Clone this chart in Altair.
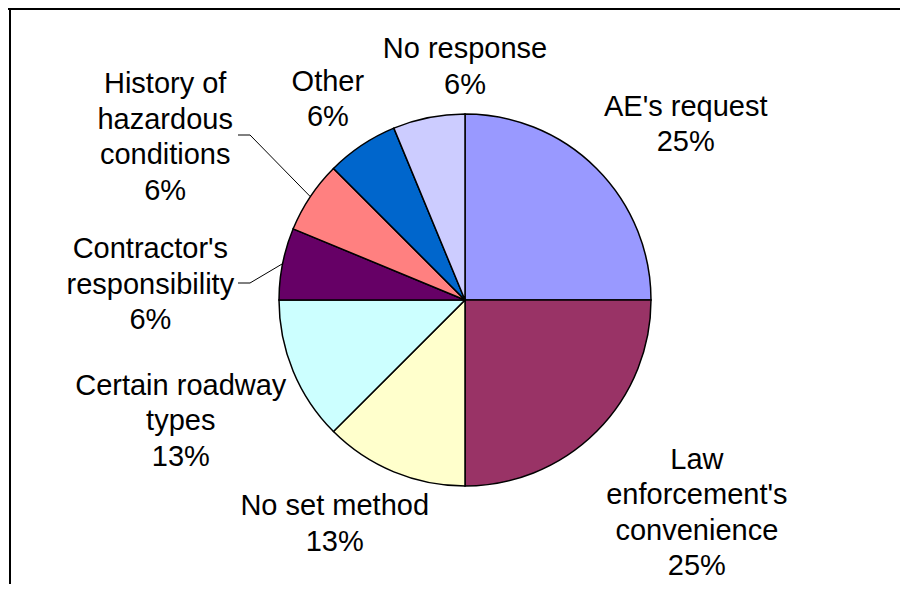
import math
import altair as alt
import pandas as pd

# ---- data ----
categories = ["AE's request", "Law enforcement's convenience", "No set method",
              "Certain roadway types", "Contractor's responsibility",
              "History of hazardous conditions", "Other", "No response"]
label_lines = [["AE's request"], ["Law", "enforcement's", "convenience"], ["No set method"],
               ["Certain roadway", "types"], ["Contractor's", "responsibility"],
               ["History of", "hazardous", "conditions"], ["Other"], ["No response"]]
counts = [4, 4, 2, 2, 1, 1, 1, 1]
colors = ["#9999FF", "#993366", "#FFFFCC", "#CCFFFF", "#660066", "#FF8080", "#0066CC", "#CCCCFF"]

# ---- layout ----
W, H = 892, 576
CX, CY, R = 457, 292, 186
LH = 35.5
label_radius = [282, 315, 259, 309, 315, 341, 243, 233]
label_nudge_deg = [6.5, -2.4, 7.7, -0.6, -8.5, -5.3, -0.6, 11.25]
leader_for = {4: [(-227, -17), (-215, -17)], 5: [(-227, -165), (-215, -165)]}
FONT = "Liberation Sans"

total = sum(counts)
pie_df = pd.DataFrame({"category": categories, "count": counts, "idx": list(range(len(counts)))})

rows, lead_rows = [], []
cum = 0
for i, c in enumerate(counts):
    mid = (cum + c / 2) / total * 360.0
    cum += c
    pct = int(100.0 * c / total + 0.5)
    lines = label_lines[i] + [f"{pct}%"]
    ang = math.radians(mid + label_nudge_deg[i])
    rows.append({"text": "\n".join(lines),
                 "lx": CX + label_radius[i] * math.sin(ang),
                 "ly": CY - label_radius[i] * math.cos(ang) - (len(lines) - 1) * LH / 2})
    if i in leader_for:
        pts = [(CX + dx, CY + dy) for dx, dy in leader_for[i]]
        m = math.radians(mid)
        pts.append((CX + R * math.sin(m), CY - R * math.cos(m)))
        for k, (px, py) in enumerate(pts):
            lead_rows.append({"g": i, "k": k, "px": px, "py": py})
lab_df = pd.DataFrame(rows)
lead_df = pd.DataFrame(lead_rows)

pie = alt.Chart(pie_df).mark_arc(radius=R, stroke="black", strokeWidth=1.5).encode(
    theta=alt.Theta("count:Q", stack=True),
    order=alt.Order("idx:Q"),
    color=alt.Color("category:N", scale=alt.Scale(domain=categories, range=colors), legend=None),
    x=alt.value(CX), y=alt.value(CY),
)

labels = alt.Chart(lab_df).mark_text(font=FONT, fontSize=29, lineBreak="\n", lineHeight=LH,
                                     align="center", baseline="middle", color="black").encode(
    x=alt.X("lx:Q", scale=None), y=alt.Y("ly:Q", scale=None), text="text:N")

leaders = alt.Chart(lead_df).mark_line(color="black", strokeWidth=1).encode(
    x=alt.X("px:Q", scale=None), y=alt.Y("py:Q", scale=None),
    detail="g:N", order="k:Q")

frame_top = alt.Chart(pie_df).mark_rule(color="black", strokeWidth=2).encode(
    x=alt.value(0), x2=alt.value(W), y=alt.value(1))
frame_left = alt.Chart(pie_df).mark_rule(color="black", strokeWidth=2).encode(
    x=alt.value(2), y=alt.value(0), y2=alt.value(H))

chart = alt.layer(frame_top, frame_left, pie, leaders, labels).properties(
    width=W, height=H, padding=0, autosize="none"
).configure_view(stroke=None)

chart.save("out.html", embed_options={"renderer": "svg", "actions": False})
